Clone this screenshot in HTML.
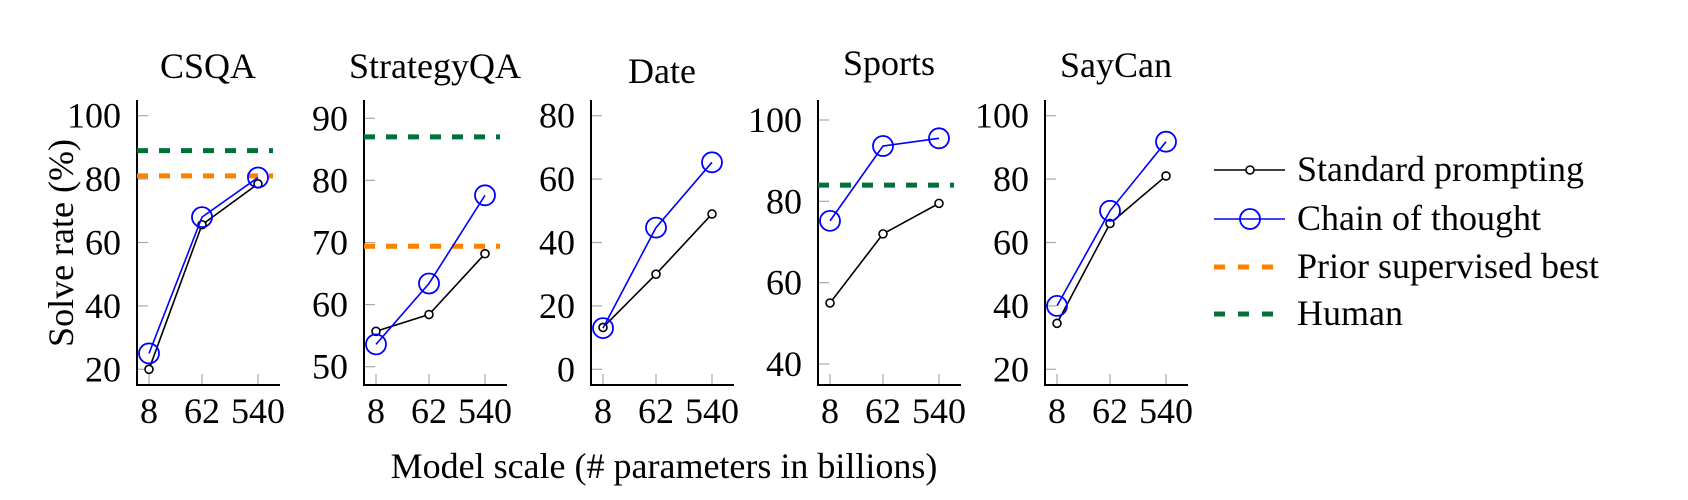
<!DOCTYPE html>
<html><head><meta charset="utf-8">
<style>
html,body{margin:0;padding:0;background:#fff;}
svg{display:block;}
svg text{font-family:"Liberation Serif","Times New Roman","DejaVu Serif",serif;}
</style></head>
<body>
<svg id="fig" width="1688" height="500" viewBox="0 0 1688 500" xmlns="http://www.w3.org/2000/svg" font-family="Liberation Serif, DejaVu Serif, serif"></svg>
<script>
const panelNames = ["CSQA","StrategyQA","Date","Sports","SayCan"];
const xCategories = ["8","62","540"];
const standardCSQA = [20,65.6,78.5];
const standardStrategyQA = [55.7,58.4,68.2];
const standardDate = [13.2,30,49];
const standardSports = [55,72,79.5];
const standardSayCan = [34.5,66,81];
const cotCSQA = [25,68,80.5];
const cotStrategyQA = [53.6,63.4,77.6];
const cotDate = [13,44.7,65.3];
const cotSports = [75.2,93.6,95.5];
const cotSayCan = [40,70,91.8];
const priorBest = [81,69.4,null,null,null];
const humanBest = [89,87,null,84,null];
const ticksCSQA = [20,40,60,80,100];
const ticksStrategyQA = [50,60,70,80,90];
const ticksDate = [0,20,40,60,80];
const ticksSports = [40,60,80,100];
const ticksSayCan = [20,40,60,80,100];

const standardSeries=[standardCSQA,standardStrategyQA,standardDate,standardSports,standardSayCan];
const cotSeries=[cotCSQA,cotStrategyQA,cotDate,cotSports,cotSayCan];
const tickSets=[ticksCSQA,ticksStrategyQA,ticksDate,ticksSports,ticksSayCan];
const tickPix=[[369.3,115.7],[366.7,118.3],[369.3,115.7],[364,120],[369.3,115.7]];
const titleY=[78,78,83,75,77];
const FONT='"Liberation Serif","Times New Roman","DejaVu Serif",serif';
const NS="http://www.w3.org/2000/svg";
const svg=document.getElementById('fig');
function mk(tag,attrs,parent){const e=document.createElementNS(NS,tag);for(const k in attrs)e.setAttribute(k,attrs[k]);if(tag==='text')e.setAttribute('font-family',FONT);(parent||svg).appendChild(e);return e;}

panelNames.forEach((name,p)=>{
  const ax=137+227*p, axR=ax+143, top=100, bot=385;
  const ticks=tickSets[p];
  const t0=ticks[0], t1=ticks[ticks.length-1];
  const [p0,p1]=tickPix[p];
  const y=v=>p0+(v-t0)*(p1-p0)/(t1-t0);
  const xOff=[12,65,121];
  const x=i=>ax+xOff[i];
  const g=mk('g',{});
  
  
  const tt=mk('text',{x:ax+71,y:titleY[p],'font-size':36,'text-anchor':'middle',fill:'#000'},g);
  tt.textContent=name;
  
  
  ticks.forEach(v=>{
    const tl=mk('line',{x1:ax,x2:ax+11,y1:y(v),y2:y(v),stroke:'#aaa','stroke-width':1.2},g);
    
    
    const lb=mk('text',{x:ax-16,y:y(v)+12,'font-size':36,'text-anchor':'end',fill:'#000'},g);
    lb.textContent=v;
    
    
  });
  xCategories.forEach((c,i)=>{
    const tl=mk('line',{x1:x(i),x2:x(i),y1:bot,y2:bot-11,stroke:'#aaa','stroke-width':1.2},g);
    
    
    const lb=mk('text',{x:x(i),y:423,'font-size':36,'text-anchor':'middle',fill:'#000'},g);
    lb.textContent=c;
    
    
  });
  const axes=mk('path',{d:`M${ax},${top}V${bot}H${axR}`,fill:'none',stroke:'#000','stroke-width':2},g);
  
  
  if(humanBest[p]!=null){
    const h=mk('line',{x1:ax,x2:axR-7,y1:y(humanBest[p]),y2:y(humanBest[p]),stroke:'#007239','stroke-width':5,'stroke-dasharray':'11 11'},g);
    
    
  }
  if(priorBest[p]!=null){
    const o=mk('line',{x1:ax,x2:axR-7,y1:y(priorBest[p]),y2:y(priorBest[p]),stroke:'#ff8000','stroke-width':5,'stroke-dasharray':'11 11'},g);
    
    
  }
  const sd=standardSeries[p], cd=cotSeries[p];
  const sl=mk('polyline',{points:sd.map((v,i)=>x(i)+','+y(v)).join(' '),fill:'none',stroke:'#000','stroke-width':1.6},g);
  
  
  sd.forEach((v,i)=>{
    const c=mk('circle',{cx:x(i),cy:y(v),r:4,fill:'#fff',stroke:'#000','stroke-width':1.6},g);
    
    
  });
  const cl=mk('polyline',{points:cd.map((v,i)=>x(i)+','+y(v)).join(' '),fill:'none',stroke:'#0000ff','stroke-width':1.6},g);
  
  
  cd.forEach((v,i)=>{
    const c=mk('circle',{cx:x(i),cy:y(v),r:10,fill:'none',stroke:'#0000ff','stroke-width':1.8},g);
    
    
  });
});

const yt=mk('text',{x:0,y:0,'font-size':36,'text-anchor':'middle',fill:'#000',transform:'translate(73,243) rotate(-90)'});
yt.textContent='Solve rate (%)';


const xt=mk('text',{x:664,y:478,'font-size':36,'text-anchor':'middle',fill:'#000'});
xt.textContent='Model scale (# parameters in billions)';



const lg=mk('g',{});


const legendLabels=['Standard prompting','Chain of thought','Prior supervised best','Human'];
const rowY=[170,219,267,314];
legendLabels.forEach((lab,i)=>{
  const ry=rowY[i];
  const e=mk('g',{},lg);
  
  
  if(i===0){
    mk('line',{x1:1214,x2:1285,y1:ry,y2:ry,stroke:'#000','stroke-width':1.6},e);
    mk('circle',{cx:1250,cy:ry,r:4,fill:'#fff',stroke:'#000','stroke-width':1.6},e);
  }else if(i===1){
    mk('line',{x1:1214,x2:1285,y1:ry,y2:ry,stroke:'#0000ff','stroke-width':1.6},e);
    mk('circle',{cx:1250,cy:ry,r:10,fill:'none',stroke:'#0000ff','stroke-width':1.8},e);
  }else{
    mk('line',{x1:1214,x2:1277,y1:ry,y2:ry,stroke:i===2?'#ff8000':'#007239','stroke-width':5,'stroke-dasharray':'11 13'},e);
  }
  const t=mk('text',{x:1297,y:ry+11,'font-size':36,fill:'#000'},e);
  t.textContent=lab;
});
</script>
</body></html>
